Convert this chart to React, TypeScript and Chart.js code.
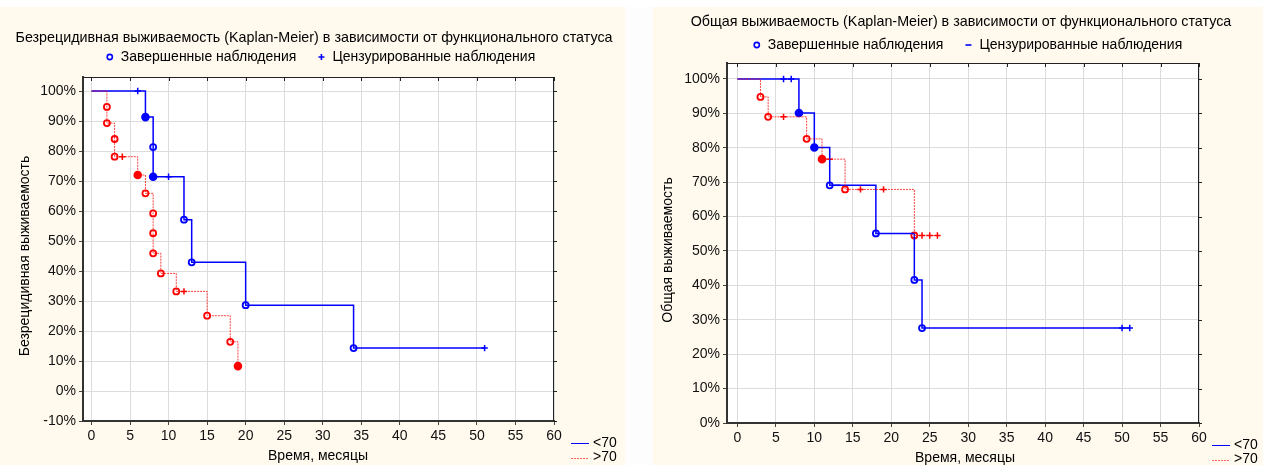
import React, { useEffect, useRef } from "react";
import { Chart, registerables } from "chart.js";

Chart.register(...registerables);

const FONT = '"Liberation Sans", Arial, sans-serif';
const BLUE = "#0000ff";
const RED = "#ff0000";
const CREAM = "#fff9ee";

// Shared axis ticks
const timeTicks = [0, 5, 10, 15, 20, 25, 30, 35, 40, 45, 50, 55, 60];
const rfsPercentTicks = [-10, 0, 10, 20, 30, 40, 50, 60, 70, 80, 90, 100];
const osPercentTicks = [0, 10, 20, 30, 40, 50, 60, 70, 80, 90, 100];

// Relapse-free survival, age < 70
const rfsLowEventTimes = [7, 8, 8, 12, 13, 20, 34];
const rfsLowEventSurv = [91.3, 81.3, 71.4, 57.1, 42.9, 28.6, 14.3];
const rfsLowCensorTimes = [6, 10, 51];
const rfsLowDashTimes: number[] = [];
const rfsLowEnd = 51;
const rfsLowFilled = [0, 2];

// Relapse-free survival, age > 70
const rfsHighEventTimes = [2, 2, 3, 3, 6, 7, 8, 8, 8, 9, 11, 15, 18, 19];
const rfsHighEventSurv = [94.7, 89.3, 84.0, 78.1, 72.0, 65.9, 59.2, 52.6, 45.9, 39.2, 33.2, 25.1, 16.4, 8.3];
const rfsHighCensorTimes = [4, 12];
const rfsHighDashTimes: number[] = [];
const rfsHighEnd = 19;
const rfsHighFilled = [4, 13];

// Overall survival, age < 70
const osLowEventTimes = [8, 10, 12, 18, 23, 24];
const osLowEventSurv = [90.1, 80.1, 69.1, 55.1, 41.6, 27.6];
const osLowCensorTimes = [6, 7, 50, 51];
const osLowDashTimes = [13];
const osLowEnd = 51;
const osLowFilled = [0, 1];

// Overall survival, age > 70
const osHighEventTimes = [3, 4, 9, 11, 14, 23];
const osHighEventSurv = [94.8, 89.0, 82.6, 76.7, 67.9, 54.5];
const osHighCensorTimes = [6, 16, 19, 24, 25, 26];
const osHighDashTimes = [12];
const osHighEnd = 26;
const osHighFilled = [3];

const seriesLabels = ["<70", ">70"];
const markerLabels = ["Завершенные наблюдения", "Цензурированные наблюдения"];

type Pt = { x: number; y: number };
type Group = {
  eventTimes: number[];
  eventSurv: number[];
  censorTimes: number[];
  dashTimes: number[];
  end: number;
  filled: number[];
};

function survivalAt(times: number[], surv: number[], t: number): number {
  let s = 100;
  for (let i = 0; i < times.length; i++) if (times[i] <= t) s = surv[i];
  return s;
}

function stepCurve(g: Group): Pt[] {
  const pts: Pt[] = [{ x: 0, y: 100 }];
  g.eventTimes.forEach((t, i) => pts.push({ x: t, y: g.eventSurv[i] }));
  const lastT = g.eventTimes[g.eventTimes.length - 1];
  if (g.end > lastT) pts.push({ x: g.end, y: g.eventSurv[g.eventSurv.length - 1] });
  return pts;
}

function eventPoints(g: Group): Pt[] {
  return g.eventTimes.map((t, i) => ({ x: t, y: g.eventSurv[i] }));
}

function censorPoints(g: Group, times: number[]): Pt[] {
  return times.map((t) => ({ x: t, y: survivalAt(g.eventTimes, g.eventSurv, t) }));
}

type Panel = {
  width: number;
  height: number;
  title: string;
  yTitle: string;
  yMin: number;
  yMax: number;
  yTicks: number[];
  xMin: number;
  low: Group;
  high: Group;
  censorMarker: "cross" | "dash";
  yAxisWidth: number;
  xAxisHeight: number;
  padRight: number;
  padTop: number;
  titleX: number;
  titleY: number;
  legendX: number;
  legendY: number;
  yTitleX: number;
  yTitleY: number;
  xTitleX: number;
  xTitleY: number;
  seriesLegendX: number;
  seriesLegendY: number;
};

function drawMarker(ctx: CanvasRenderingContext2D, kind: string, x: number, y: number, color: string) {
  ctx.save();
  ctx.strokeStyle = color;
  ctx.fillStyle = "#fff";
  ctx.lineWidth = 1.6;
  ctx.beginPath();
  if (kind === "circle") {
    ctx.arc(x, y, 2.6, 0, Math.PI * 2);
    ctx.fill();
    ctx.stroke();
  } else if (kind === "cross") {
    ctx.moveTo(x - 3, y);
    ctx.lineTo(x + 3, y);
    ctx.moveTo(x, y - 3);
    ctx.lineTo(x, y + 3);
    ctx.stroke();
  } else {
    ctx.moveTo(x - 3, y);
    ctx.lineTo(x + 3, y);
    ctx.stroke();
  }
  ctx.restore();
}

// Background, frame, titles and both legends of a panel
const panelDecor = {
  id: "panelDecor",
  beforeDraw(chart: any) {
    const { ctx, chartArea: a } = chart;
    ctx.save();
    ctx.fillStyle = CREAM;
    ctx.fillRect(0, 0, chart.width, chart.height);
    ctx.fillStyle = "#ffffff";
    ctx.fillRect(a.left, a.top, a.right - a.left, a.bottom - a.top);
    ctx.restore();
  },
  afterDraw(chart: any, _args: any, opts: any) {
    const p: Panel = opts.panel;
    const { ctx, chartArea: a } = chart;
    const xs = chart.scales.x;
    const ys = chart.scales.y;
    ctx.save();

    // top and right frame with short ticks
    ctx.strokeStyle = "#222";
    ctx.lineWidth = 1;
    ctx.beginPath();
    ctx.moveTo(a.left, a.top + 0.5);
    ctx.lineTo(a.right, a.top + 0.5);
    ctx.moveTo(a.right - 0.5, a.top);
    ctx.lineTo(a.right - 0.5, a.bottom);
    timeTicks.forEach((v) => {
      const px = Math.round(xs.getPixelForValue(v)) + 0.5;
      ctx.moveTo(px, a.top);
      ctx.lineTo(px, a.top + 4);
    });
    p.yTicks.forEach((v) => {
      const py = Math.round(ys.getPixelForValue(v)) + 0.5;
      ctx.moveTo(a.right, py);
      ctx.lineTo(a.right + 3, py);
    });
    ctx.stroke();

    ctx.fillStyle = "#000";
    ctx.textBaseline = "middle";

    // title
    ctx.font = `14.3px ${FONT}`;
    ctx.textAlign = "center";
    ctx.fillText(p.title, p.titleX, p.titleY);

    // marker legend
    ctx.font = `14px ${FONT}`;
    const gap = 22;
    const w1 = ctx.measureText(markerLabels[0]).width;
    const w2 = ctx.measureText(markerLabels[1]).width;
    const total = 14 + w1 + gap + 14 + w2;
    let lx = p.legendX - total / 2;
    drawMarker(ctx, "circle", lx + 4, p.legendY, BLUE);
    ctx.textAlign = "left";
    ctx.fillText(markerLabels[0], lx + 15, p.legendY);
    lx += 14 + w1 + gap;
    drawMarker(ctx, p.censorMarker, lx + 4, p.legendY, BLUE);
    ctx.fillText(markerLabels[1], lx + 15, p.legendY);

    // axis titles
    ctx.textAlign = "center";
    ctx.fillText("Время, месяцы", p.xTitleX, p.xTitleY);
    ctx.save();
    ctx.translate(p.yTitleX, p.yTitleY);
    ctx.rotate(-Math.PI / 2);
    ctx.fillText(p.yTitle, 0, 0);
    ctx.restore();

    // series legend
    seriesLabels.forEach((label, i) => {
      const y = p.seriesLegendY + i * 14.5;
      ctx.save();
      ctx.strokeStyle = i === 0 ? BLUE : "rgba(255,0,0,0.6)";
      ctx.lineWidth = 1;
      if (i === 1) ctx.setLineDash([2, 1]);
      ctx.beginPath();
      ctx.moveTo(p.seriesLegendX, Math.round(y) + 0.5);
      ctx.lineTo(p.seriesLegendX + 18, Math.round(y) + 0.5);
      ctx.stroke();
      ctx.restore();
      ctx.textAlign = "left";
      ctx.fillStyle = "#000";
      ctx.fillText(label, p.seriesLegendX + 22, y);
    });
    ctx.restore();
  },
};

function groupDatasets(g: Group, color: string, lineColor: string, dashed: boolean) {
  return {
    line: {
      data: stepCurve(g),
      showLine: true,
      stepped: true,
      borderColor: lineColor,
      borderWidth: dashed ? 1 : 1.5,
      borderDash: dashed ? [2, 1] : [],
      pointRadius: 0,
      fill: false,
    },
    events: {
      data: eventPoints(g),
      showLine: false,
      pointStyle: "circle",
      pointRadius: (c: any) => (g.filled.includes(c.dataIndex) ? 3.4 : 3),
      pointBorderWidth: 1.8,
      pointBorderColor: color,
      pointBackgroundColor: (c: any) => (g.filled.includes(c.dataIndex) ? color : "#ffffff"),
    },
    censors: {
      data: censorPoints(g, g.censorTimes),
      showLine: false,
      pointStyle: "cross",
      pointRadius: 3.2,
      pointBorderWidth: 1.5,
      pointBorderColor: color,
    },
    dashes: {
      data: censorPoints(g, g.dashTimes),
      showLine: false,
      pointStyle: "line",
      pointRadius: 3.2,
      pointBorderWidth: 1.5,
      pointBorderColor: color,
    },
  };
}

function makeConfig(p: Panel): any {
  const lo = groupDatasets(p.low, BLUE, BLUE, false);
  const hi = groupDatasets(p.high, RED, "rgba(255,0,0,0.75)", true);
  return {
    type: "scatter",
    data: {
      datasets: [hi.line, lo.line, hi.events, lo.events, hi.censors, lo.censors, hi.dashes, lo.dashes],
    },
    plugins: [panelDecor],
    options: {
      responsive: false,
      animation: false,
      devicePixelRatio: 1,
      layout: { padding: { left: 0, right: p.padRight, top: p.padTop, bottom: 0 } },
      plugins: {
        legend: { display: false },
        title: { display: false },
        tooltip: { enabled: false },
        panelDecor: { panel: p },
      },
      scales: {
        x: {
          type: "linear",
          min: p.xMin,
          max: 60,
          afterBuildTicks: (s: any) => {
            s.ticks = timeTicks.map((v) => ({ value: v }));
          },
          afterFit: (s: any) => {
            s.height = p.xAxisHeight;
          },
          grid: { color: "#dcdcdc", lineWidth: 1, tickLength: 4, tickColor: "#444" },
          border: { display: true, color: "#333", width: 2 },
          ticks: {
            font: { family: FONT, size: 14 },
            color: "#111",
            padding: 3,
            maxRotation: 0,
            autoSkip: false,
          },
        },
        y: {
          type: "linear",
          min: p.yMin,
          max: p.yMax,
          afterBuildTicks: (s: any) => {
            s.ticks = p.yTicks.map((v) => ({ value: v }));
          },
          afterFit: (s: any) => {
            s.width = p.yAxisWidth;
          },
          grid: { color: "#dcdcdc", lineWidth: 1, tickLength: 4, tickColor: "#444" },
          border: { display: true, color: "#333", width: 2 },
          ticks: {
            font: { family: FONT, size: 14 },
            color: "#111",
            padding: 3,
            autoSkip: false,
            callback: (v: any) => `${v}%`,
          },
        },
      },
    },
  };
}

const rfsPanel: Panel = {
  width: 625,
  height: 458,
  title: "Безрецидивная выживаемость (Kaplan-Meier) в зависимости от функционального статуса",
  yTitle: "Безрецидивная выживаемость",
  yMin: -10,
  yMax: 104.67,
  yTicks: rfsPercentTicks,
  xMin: -1.1,
  low: {
    eventTimes: rfsLowEventTimes,
    eventSurv: rfsLowEventSurv,
    censorTimes: rfsLowCensorTimes,
    dashTimes: rfsLowDashTimes,
    end: rfsLowEnd,
    filled: rfsLowFilled,
  },
  high: {
    eventTimes: rfsHighEventTimes,
    eventSurv: rfsHighEventSurv,
    censorTimes: rfsHighCensorTimes,
    dashTimes: rfsHighDashTimes,
    end: rfsHighEnd,
    filled: rfsHighFilled,
  },
  censorMarker: "cross",
  yAxisWidth: 83,
  xAxisHeight: 44,
  padRight: 71,
  padTop: 70,
  titleX: 314,
  titleY: 31,
  legendX: 320,
  legendY: 50,
  yTitleX: 25,
  yTitleY: 249,
  xTitleX: 318,
  xTitleY: 449,
  seriesLegendX: 571,
  seriesLegendY: 436,
};

const osPanel: Panel = {
  width: 610,
  height: 458,
  title: "Общая выживаемость (Kaplan-Meier) в зависимости от функционального статуса",
  yTitle: "Общая выживаемость",
  yMin: 0,
  yMax: 104.65,
  yTicks: osPercentTicks,
  xMin: -1.35,
  low: {
    eventTimes: osLowEventTimes,
    eventSurv: osLowEventSurv,
    censorTimes: osLowCensorTimes,
    dashTimes: osLowDashTimes,
    end: osLowEnd,
    filled: osLowFilled,
  },
  high: {
    eventTimes: osHighEventTimes,
    eventSurv: osHighEventSurv,
    censorTimes: osHighCensorTimes,
    dashTimes: osHighDashTimes,
    end: osHighEnd,
    filled: osHighFilled,
  },
  censorMarker: "dash",
  yAxisWidth: 74,
  xAxisHeight: 42,
  padRight: 64,
  padTop: 56,
  titleX: 308,
  titleY: 15,
  legendX: 314,
  legendY: 38,
  yTitleX: 15,
  yTitleY: 243,
  xTitleX: 312,
  xTitleY: 451,
  seriesLegendX: 559,
  seriesLegendY: 438,
};

function KMChart({ panel, left, top }: { panel: Panel; left: number; top: number }) {
  const ref = useRef<HTMLCanvasElement | null>(null);
  useEffect(() => {
    if (!ref.current) return;
    const chart = new Chart(ref.current, makeConfig(panel));
    return () => chart.destroy();
  }, [panel]);
  return (
    <canvas
      ref={ref}
      width={panel.width}
      height={panel.height}
      style={{ position: "absolute", left, top, width: panel.width, height: panel.height, display: "block" }}
    />
  );
}

export default function App() {
  return (
    <div style={{ position: "absolute", left: 0, top: 0, width: 1263, height: 465, background: "#fdfdfd", overflow: "hidden" }}>
      <div style={{ position: "absolute", left: 0, top: 0, width: 1263, height: 7, background: "#ffffff" }} />
      <KMChart panel={rfsPanel} left={0} top={7} />
      <KMChart panel={osPanel} left={653} top={7} />
    </div>
  );
}
